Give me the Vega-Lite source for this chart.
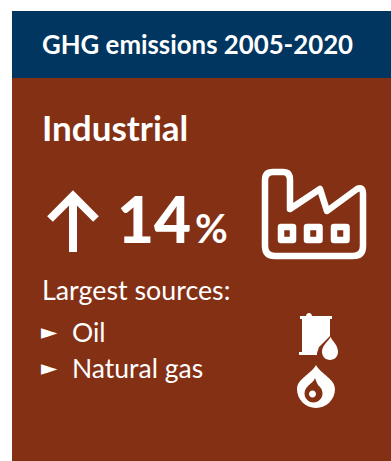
{
  "$schema": "https://vega.github.io/schema/vega-lite/v6.json",
  "width": 391,
  "height": 461,
  "autosize": {"type": "fit", "contains": "padding"},
  "padding": 0,
  "background": "#ffffff",
  "view": {"stroke": null},
  "config": {"text": {"font": "Lato", "color": "#ffffff", "align": "left", "baseline": "alphabetic"}},
  "datasets": {
    "card": [{"heading": "GHG emissions 2005-2020", "sector": "Industrial", "change_pct": 14, "unit": "%", "sources_label": "Largest sources:"}],
    "sources": [{"source": "Oil", "bullet": "►"}, {"source": "Natural gas", "bullet": "►"}]
  },
  "data": {"name": "card"},
  "layer": [
    {"mark": {"type": "rect", "fill": "#843015"}, "encoding": {"x": {"value": 12}, "x2": {"value": 391}, "y": {"value": 78}, "y2": {"value": 461}}},
    {"mark": {"type": "rect", "fill": "#003660"}, "encoding": {"x": {"value": 12}, "x2": {"value": 391}, "y": {"value": 11}, "y2": {"value": 78}}},
    {"mark": {"type": "text", "x": 42, "y": 54, "fontSize": 25.8, "fontWeight": "bold"}, "encoding": {"text": {"field": "heading"}}},
    {"mark": {"type": "text", "x": 42, "y": 141, "fontSize": 35, "fontWeight": "bold"}, "encoding": {"text": {"field": "sector"}}},
    {"mark": {"type": "text", "x": 117, "y": 243, "fontSize": 64, "fontWeight": 900}, "encoding": {"text": {"field": "change_pct", "type": "quantitative"}}},
    {"mark": {"type": "text", "x": 195, "y": 243, "fontSize": 40, "fontWeight": "bold"}, "encoding": {"text": {"field": "unit"}}},
    {"mark": {"type": "text", "x": 42, "y": 300, "fontSize": 26.8}, "encoding": {"text": {"field": "sources_label"}}},
    {
      "data": {"name": "sources"},
      "mark": {"type": "text", "x": 72, "fontSize": 26.5},
      "encoding": {
        "y": {"field": "source", "type": "nominal", "axis": null, "scale": {"domain": ["Oil", "Natural gas"], "range": [342, 378], "padding": 0}},
        "text": {"field": "source"}
      }
    },
    {
      "data": {"name": "sources"},
      "mark": {"type": "text", "x": 41, "dy": -3, "font": "DejaVu Sans", "fontSize": 21},
      "encoding": {
        "y": {"field": "source", "type": "nominal", "axis": null, "scale": {"domain": ["Oil", "Natural gas"], "range": [342, 378], "padding": 0}},
        "text": {"field": "bullet"}
      }
    },
    {
      "description": "Upward arrow",
      "mark": {"type": "point", "x": 73, "y": 222, "size": 4, "shape": "M0,-27 L0,30 M-23,-3 L0,-26 L23,-3", "filled": false, "stroke": "#ffffff", "strokeWidth": 8, "opacity": 1},
      "encoding": {}
    },
    {
      "description": "Factory outline with three windows",
      "mark": {"type": "point", "x": 315, "y": 214, "size": 4, "shape": "M-50,-34 Q-50,-42 -42,-42 L-32,-42 Q-25,-42 -25,-34 L-25,-5 L5,-25 L12,-3 L42,-25 Q48,-28 48,-20 L48,32 Q48,42 38,42 L-40,42 Q-50,42 -50,32 Z M-34,13 L-22,13 L-22,26 L-34,26 Z M-8,13 L4.5,13 L4.5,26 L-8,26 Z M19,13 L31.5,13 L31.5,26 L19,26 Z", "filled": false, "stroke": "#ffffff", "strokeWidth": 6.5, "strokeJoin": "round", "opacity": 1},
      "encoding": {}
    },
    {
      "description": "Oil barrel",
      "mark": {"type": "point", "x": 316, "y": 336, "size": 4, "shape": "M-16,-20 L-10,-20 A3,3 0 0 1 -4,-20 L16,-20 L16,-17 L14,-17 L14,0 L3,11 L1,17 L1,19 L-17,19 L-17,16 L-14,16 L-14,-17 L-16,-17 Z", "filled": true, "fill": "#ffffff", "stroke": null, "opacity": 1},
      "encoding": {}
    },
    {
      "description": "Oil drop beside the barrel",
      "mark": {"type": "point", "x": 316, "y": 336, "size": 4, "shape": "M14.5,1 C17,6 22,9 22,16 A8,8 0 1 1 6,16 C6,9 12,6 14.5,1 Z", "filled": true, "fill": "#ffffff", "stroke": null, "opacity": 1},
      "encoding": {}
    },
    {
      "description": "Gas drop",
      "mark": {"type": "point", "x": 316, "y": 387, "size": 4, "shape": "M0,-22 C5,-13 19,-8 19,2 A19,19 0 1 1 -19,2 C-19,-8 -5,-13 0,-22 Z", "filled": true, "fill": "#ffffff", "stroke": null, "opacity": 1},
      "encoding": {}
    },
    {
      "description": "Flame cut into the gas drop",
      "mark": {"type": "point", "x": 316, "y": 387, "size": 4, "shape": "M-1,-9 C-2,-4 -11.5,-1 -11.5,6.5 A9,9 0 0 0 6.5,6.5 C6.5,2 4,0 2,-2 C1,-4 0,-6 -1,-9 Z", "filled": true, "fill": "#843015", "stroke": null, "opacity": 1},
      "encoding": {}
    },
    {
      "description": "Flame core",
      "mark": {"type": "point", "x": 316, "y": 387, "size": 4, "shape": "M-7,7 A3.5,3.5 0 1 0 0,7 A3.5,3.5 0 1 0 -7,7 Z", "filled": true, "fill": "#ffffff", "stroke": null, "opacity": 1},
      "encoding": {}
    }
  ]
}
